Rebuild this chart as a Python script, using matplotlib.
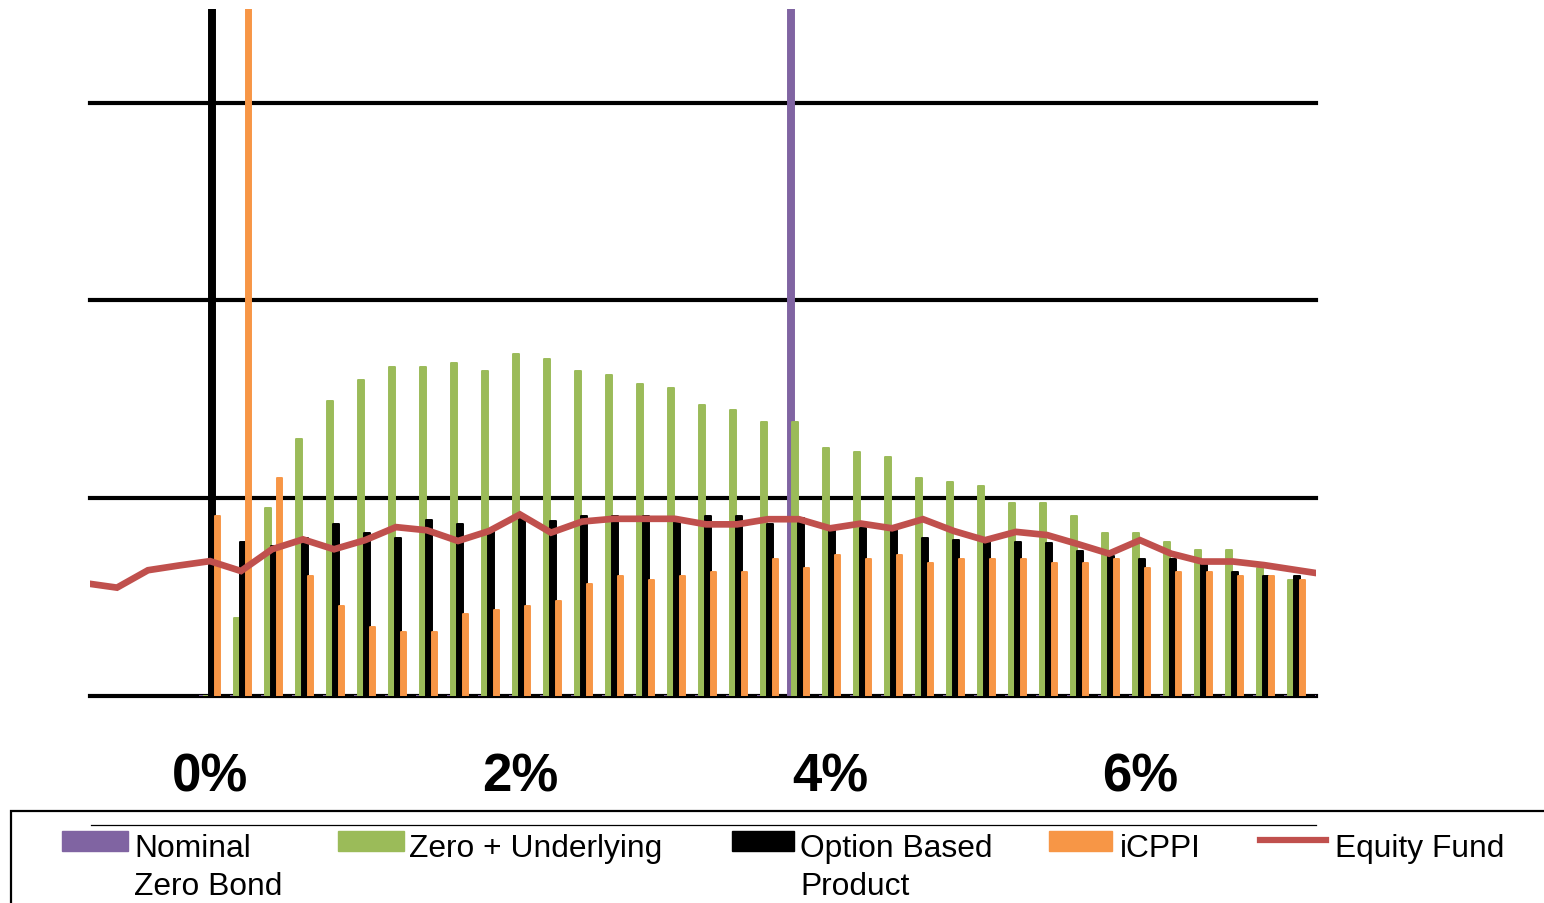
import numpy as np
import matplotlib.pyplot as plt
from matplotlib.patches import Rectangle
from matplotlib.lines import Line2D

plt.rcParams['font.family'] = ['Liberation Sans', 'DejaVu Sans']

# return buckets in %, 0.2% apart
buckets = [0.0, 0.2, 0.4, 0.6, 0.8, 1.0, 1.2, 1.4, 1.6, 1.8,
           2.0, 2.2, 2.4, 2.6, 2.8, 3.0, 3.2, 3.4, 3.6, 3.8,
           4.0, 4.2, 4.4, 4.6, 4.8, 5.0, 5.2, 5.4, 5.6, 5.8,
           6.0, 6.2, 6.4, 6.6, 6.8, 7.0, 7.2]

nominal_zero = [0, 0, 0, 0, 0, 0, 0, 0, 0, 0,
                0, 0, 0, 0, 0, 0, 0, 0, 0, 20,
                0, 0, 0, 0, 0, 0, 0, 0, 0, 0,
                0, 0, 0, 0, 0, 0, 0]
zero_underlying = [0, 1.96, 4.76, 6.49, 7.46, 8.00, 8.33, 8.33, 8.43, 8.22,
                   8.64, 8.53, 8.22, 8.11, 7.90, 7.78, 7.36, 7.24, 6.93, 6.93,
                   6.28, 6.17, 6.05, 5.52, 5.41, 5.30, 4.88, 4.88, 4.55, 4.11,
                   4.11, 3.89, 3.68, 3.68, 3.23, 2.93, 2.81]
option_based = [20, 3.90, 3.78, 4.00, 4.34, 4.11, 4.00, 4.44, 4.34, 4.17,
                4.50, 4.43, 4.54, 4.55, 4.55, 4.51, 4.54, 4.54, 4.34, 4.50,
                4.20, 4.26, 4.19, 4.00, 3.95, 3.92, 3.90, 3.88, 3.67, 3.54,
                3.47, 3.47, 3.41, 3.14, 3.03, 3.03, 2.90]
icppi = [4.55, 20, 5.52, 3.03, 2.28, 1.75, 1.63, 1.63, 2.07, 2.17,
         2.28, 2.39, 2.82, 3.03, 2.93, 3.03, 3.14, 3.14, 3.47, 3.24,
         3.57, 3.46, 3.57, 3.36, 3.47, 3.47, 3.47, 3.36, 3.36, 3.47,
         3.24, 3.14, 3.14, 3.03, 3.03, 2.93, 2.85]

equity_x = [-0.8, -0.6, -0.4, -0.2] + buckets
equity_fund = [2.85, 2.74, 3.18, 3.30,
               3.41, 3.16, 3.71, 3.96, 3.71, 3.94, 4.27, 4.19, 3.92, 4.17,
               4.59, 4.13, 4.41, 4.48, 4.48, 4.48, 4.34, 4.34, 4.47, 4.47,
               4.24, 4.36, 4.24, 4.47, 4.17, 3.94, 4.15, 4.07, 3.84, 3.60,
               3.94, 3.60, 3.40, 3.40, 3.31, 3.19, 3.07]

tick_pos = [0, 2, 4, 6]
tick_labels = ['0%', '2%', '4%', '6%']

PURPLE = '#8064A2'
GREEN = '#9BBB59'
BLACK = '#000000'
ORANGE = '#F79646'
RED = '#C0504D'

W, H = 1544, 904
fig = plt.figure(figsize=(W / 100, H / 100), dpi=100)
ax = fig.add_axes([90 / W, 207 / H, 1226 / W, 687 / H])

x = np.array(buckets)
bw = 0.034
series = [(nominal_zero, PURPLE, -0.052),
          (zero_underlying, GREEN, -0.026),
          (option_based, BLACK, 0.013),
          (icppi, ORANGE, 0.048)]
for vals, col, off in series:
    ax.bar(x + off, vals, width=bw, color=col, edgecolor=col, linewidth=1.4,
           joinstyle='round', zorder=3)

ax.plot(equity_x, equity_fund, color=RED, linewidth=4.8, zorder=5,
        solid_joinstyle='miter')

for g in [0, 5, 10, 15]:
    ax.axhline(g, color='black', linewidth=3.0, zorder=1, clip_on=False)

ax.set_xlim(-0.774, 7.135)
ax.set_ylim(0, 17.37)
ax.set_yticks([])
ax.set_xticks(tick_pos, tick_labels)
ax.tick_params(axis='x', length=0, pad=40, labelsize=38)
for lab in ax.get_xticklabels():
    lab.set_fontweight('bold')
for s in ax.spines.values():
    s.set_visible(False)


# legend, drawn in pixel coordinates of the figure
def fx(px):
    return px / W


def fy(py):
    return 1 - py / H


fig.patches.append(Rectangle((fx(11), fy(904 + 50)), fx(1600), (904 + 50 - 812) / H,
                             transform=fig.transFigure, fill=False,
                             edgecolor='black', linewidth=1.6))
fig.lines.append(Line2D([fx(91), fx(1316)], [fy(826), fy(826)],
                        transform=fig.transFigure, color='black', linewidth=0.9))

entries = [(PURPLE, 62, 128, ['Nominal', 'Zero Bond'], 134),
           (GREEN, 338, 404, ['Zero + Underlying'], 409),
           (BLACK, 732, 794, ['Option Based', 'Product'], 800),
           (ORANGE, 1049, 1112, ['iCPPI'], 1120)]
for col, x0, x1, lines, tx in entries:
    fig.patches.append(Rectangle((fx(x0), fy(852)), fx(x1 - x0), 20 / H,
                                 transform=fig.transFigure, color=col))
    for i, t in enumerate(lines):
        fig.text(fx(tx), fy(857 + 38 * i), t, fontsize=22.9, va='baseline')

fig.lines.append(Line2D([fx(1260), fx(1326)], [fy(841), fy(841)],
                        transform=fig.transFigure, color=RED, linewidth=4.5))
fig.text(fx(1335), fy(857), 'Equity Fund', fontsize=22.9, va='baseline')

fig.savefig('out.png', dpi=100)
